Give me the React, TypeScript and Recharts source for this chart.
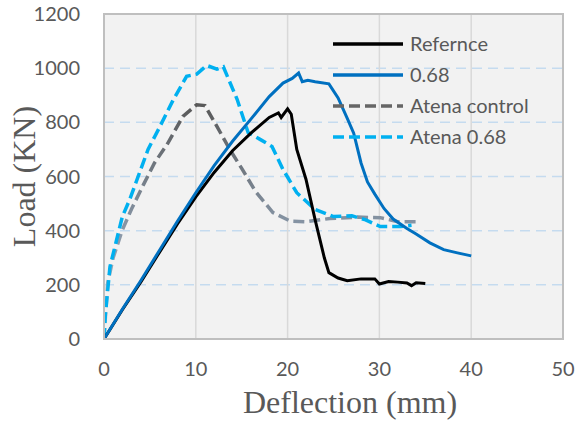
import React from 'react';
import {
  LineChart,
  Line,
  XAxis,
  YAxis,
  CartesianGrid,
  ReferenceArea,
} from 'recharts';

const xTicks = [0, 10, 20, 30, 40, 50];
const yTicks = [0, 200, 400, 600, 800, 1000, 1200];

const reference = [
  { x: 0, y: 0 }, { x: 2, y: 108 }, { x: 4, y: 210 }, { x: 6, y: 318 },
  { x: 8, y: 425 }, { x: 10, y: 525 }, { x: 12, y: 615 }, { x: 14, y: 695 },
  { x: 16, y: 760 }, { x: 18, y: 818 }, { x: 19, y: 835 }, { x: 19.3, y: 818 },
  { x: 20, y: 850 }, { x: 20.4, y: 830 }, { x: 21, y: 700 }, { x: 22, y: 590 },
  { x: 23, y: 440 }, { x: 24, y: 300 }, { x: 24.5, y: 245 }, { x: 25.5, y: 225 },
  { x: 26.5, y: 215 }, { x: 28, y: 222 }, { x: 29.5, y: 222 }, { x: 30, y: 203 },
  { x: 31, y: 212 }, { x: 32, y: 210 }, { x: 33, y: 207 }, { x: 33.5, y: 197 },
  { x: 34, y: 208 }, { x: 35, y: 205 },
];

const s068 = [
  { x: 0, y: 0 }, { x: 2, y: 110 }, { x: 4, y: 215 }, { x: 6, y: 325 },
  { x: 8, y: 435 }, { x: 10, y: 540 }, { x: 12, y: 640 }, { x: 14, y: 730 },
  { x: 16, y: 812 }, { x: 18, y: 895 }, { x: 19.5, y: 945 }, { x: 20.5, y: 962 },
  { x: 21.2, y: 982 }, { x: 21.6, y: 950 }, { x: 22.2, y: 955 }, { x: 23, y: 950 },
  { x: 24.5, y: 942 }, { x: 25.5, y: 890 }, { x: 26.5, y: 815 }, { x: 27.2, y: 760 },
  { x: 28, y: 650 }, { x: 28.7, y: 580 }, { x: 29.5, y: 535 }, { x: 30.5, y: 482 },
  { x: 31.5, y: 443 }, { x: 33, y: 408 }, { x: 34, y: 388 }, { x: 35.5, y: 355 },
  { x: 37, y: 330 }, { x: 38.5, y: 318 }, { x: 40, y: 307 },
];

const atenaControl = [
  { x: 0, y: 0 }, { x: 0.4, y: 207 }, { x: 1, y: 300 }, { x: 2, y: 403 },
  { x: 3, y: 480 }, { x: 4.3, y: 570 }, { x: 5.5, y: 650 }, { x: 6.9, y: 720 },
  { x: 8.6, y: 822 }, { x: 10.1, y: 865 }, { x: 11, y: 862 }, { x: 12.3, y: 785 },
  { x: 13.7, y: 700 }, { x: 15, y: 630 }, { x: 16.5, y: 545 }, { x: 18.4, y: 467 },
  { x: 20.3, y: 435 }, { x: 22, y: 433 }, { x: 24.6, y: 445 }, { x: 27.6, y: 450 },
  { x: 30.1, y: 448 }, { x: 32, y: 433 }, { x: 34.1, y: 433 },
];

const atena068 = [
  { x: 0, y: 0 }, { x: 0.15, y: 90 }, { x: 0.65, y: 267 }, { x: 2, y: 452 },
  { x: 2.8, y: 515 }, { x: 4.8, y: 700 }, { x: 6.1, y: 785 }, { x: 7.5, y: 880 },
  { x: 9, y: 970 }, { x: 10.1, y: 978 }, { x: 11.2, y: 1010 }, { x: 12.3, y: 996 },
  { x: 13, y: 1005 }, { x: 14.5, y: 885 }, { x: 15.7, y: 762 }, { x: 17, y: 737 },
  { x: 18.3, y: 711 }, { x: 19.5, y: 626 }, { x: 21, y: 540 }, { x: 23, y: 478 },
  { x: 25, y: 452 }, { x: 27, y: 455 }, { x: 28.5, y: 440 }, { x: 30.1, y: 415 },
  { x: 32.3, y: 415 }, { x: 33.5, y: 420 },
];

const legendItems = [
  { name: 'Refernce', color: '#000000', dash: undefined },
  { name: '0.68', color: '#0070c0', dash: undefined },
  { name: 'Atena control', color: '#666666', dash: '11 5' },
  { name: 'Atena 0.68', color: '#00b0f0', dash: '11 5' },
];

const tickStyle = { fill: '#595959', fontSize: 20, fontFamily: 'Lato, sans-serif' };

function LegendBox() {
  return (
    <div
      style={{
        position: 'absolute',
        left: 331,
        top: 28,
        fontFamily: 'Lato, sans-serif',
        fontSize: 20,
        color: '#595959',
        lineHeight: '31px',
      }}
    >
      {legendItems.map((it) => (
        <div key={it.name} style={{ display: 'flex', alignItems: 'center', height: 31 }}>
          <svg width={74} height={10} style={{ marginRight: 5 }}>
            <line x1={2} y1={5} x2={72} y2={5} stroke={it.color} strokeWidth={3.5} strokeDasharray={it.dash} />
          </svg>
          <span>{it.name}</span>
        </div>
      ))}
    </div>
  );
}

export default function App() {
  return (
    <div style={{ position: 'relative', width: 577, height: 424, background: '#ffffff' }}>
      <style>{`body{margin:0;}`}</style>
      <LineChart width={577} height={424} margin={{ top: 14, right: 14, left: 0, bottom: 0 }}>
        <defs>
          <linearGradient id="gradCtrl" x1="0" y1="0" x2="0" y2="1">
            <stop offset="0%" stopColor="#595959" />
            <stop offset="50%" stopColor="#8593a3" />
            <stop offset="100%" stopColor="#b4c0cd" />
          </linearGradient>
        </defs>
        <CartesianGrid fill="#f2f2f2" stroke="#c5dbef" strokeWidth={1.5} strokeDasharray="10 6" vertical={false} horizontalValues={[200, 400, 600, 800, 1000]} />
        <CartesianGrid fill="none" stroke="#d9d9d9" strokeWidth={1.5} horizontal={false} verticalValues={[10, 20, 30, 40]} />
        <ReferenceArea x1={0} x2={50} y1={0} y2={1200} fill="none" stroke="#bfbfbf" strokeWidth={2} ifOverflow="visible" />
        <XAxis
          type="number"
          dataKey="x"
          domain={[0, 50]}
          ticks={xTicks}
          allowDataOverflow
          height={85}
          tickLine={false}
          tickSize={0}
          tickMargin={23}
          axisLine={{ stroke: '#bfbfbf', strokeWidth: 2 }}
          tick={tickStyle}
          label={(props: any) => {
            const vb = props.viewBox;
            return (
              <text
                x={350}
                y={vb.y + 74}
                textAnchor="middle"
                fill="#595959"
                fontSize={32}
                fontFamily="'Liberation Serif', 'Times New Roman', serif"
              >
                Deflection (mm)
              </text>
            );
          }}
        />
        <YAxis
          type="number"
          domain={[0, 1200]}
          ticks={yTicks}
          allowDataOverflow
          width={104}
          tickLine={false}
          tickSize={0}
          tickMargin={24}
          axisLine={{ stroke: '#bfbfbf', strokeWidth: 2 }}
          tick={tickStyle}
          label={(props: any) => {
            const vb = props.viewBox;
            const cy = vb.y + vb.height / 2;
            return (
              <text
                x={24}
                y={cy}
                transform={`rotate(-90, 24, ${cy})`}
                textAnchor="middle"
                dominantBaseline="central"
                fill="#595959"
                fontSize={32}
                fontFamily="'Liberation Serif', 'Times New Roman', serif"
              >
                Load (KN)
              </text>
            );
          }}
        />
        <Line data={atenaControl} dataKey="y" type="linear" stroke="url(#gradCtrl)" strokeWidth={3.5} strokeDasharray="11 5" dot={false} isAnimationActive={false} name="Atena control" />
        <Line data={atena068} dataKey="y" type="linear" stroke="#00b0f0" strokeWidth={3.5} strokeDasharray="11 5" dot={false} isAnimationActive={false} name="Atena 0.68" />
        <Line data={reference} dataKey="y" type="linear" stroke="#000000" strokeWidth={3} dot={false} isAnimationActive={false} name="Refernce" />
        <Line data={s068} dataKey="y" type="linear" stroke="#0070c0" strokeWidth={3} dot={false} isAnimationActive={false} name="0.68" />
      </LineChart>
      <LegendBox />
    </div>
  );
}
